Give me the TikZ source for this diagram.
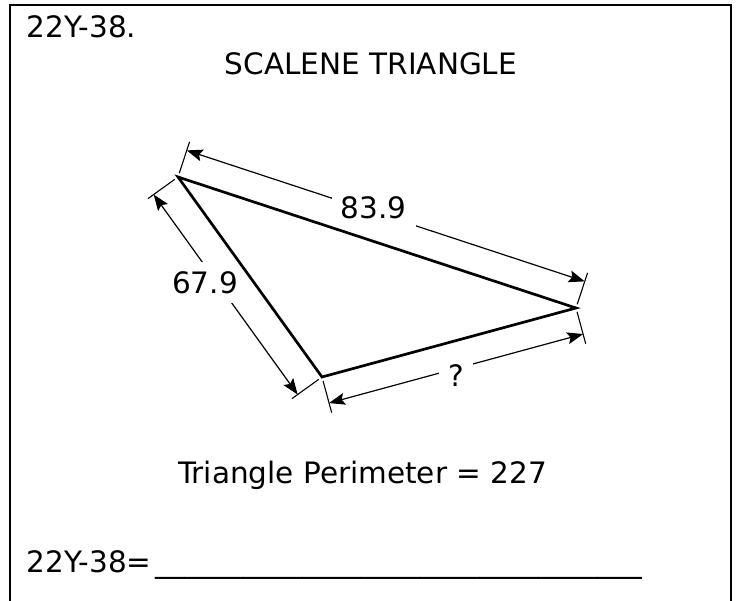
\documentclass[tikz,border=0pt]{standalone}
\usepackage{fontspec}
\setmainfont{DejaVu Sans}
\usetikzlibrary{calc,arrows.meta}
\begin{document}
\begin{tikzpicture}[x=1pt,y=-1pt,>={Stealth[length=16pt,width=12pt,inset=3pt]},
  font=\fontsize{29.5}{35}\selectfont,
  edge/.style={line width=2.7pt},
  dim/.style={<->,line width=1.2pt},
  ext/.style={line width=1.1pt},
  lbl/.style={fill=white,inner sep=9pt}]
\useasboundingbox (0,0) rectangle (739,601);
\draw[line width=2.5pt] (10,601) -- (10,5) -- (731,5) -- (731,601);
\node (num) at (23,38) [anchor=base west] {22Y-38.};
\node (title) at (371,75) [anchor=base] {SCALENE TRIANGLE};
% corners
\coordinate (A) at (178,177);
\coordinate (B) at (576,308);
\coordinate (C) at (322,377);
% extension lines
\foreach \p/\q/\a in {A/B/90,B/A/-90,A/C/-90,C/A/90,C/B/-90,B/C/90}
  \draw[ext] ($(\p)!4pt!\a:(\q)$) -- ($(\p)!37pt!\a:(\q)$);
\coordinate (ab1) at ($(A)!28pt!90:(B)$);
\coordinate (ab2) at ($(B)!28pt!-90:(A)$);
\coordinate (ac1) at ($(A)!30pt!-90:(C)$);
\coordinate (ac2) at ($(C)!30pt!90:(A)$);
\coordinate (cb1) at ($(C)!27pt!-90:(B)$);
\coordinate (cb2) at ($(B)!27pt!90:(C)$);
\draw[dim] (ab1) -- node[lbl,pos=.47,yshift=4pt] (lab) {83.9} (ab2);
\draw[dim] (ac1) -- node[lbl,pos=.44,xshift=-12pt] (lac) {67.9} (ac2);
\draw[dim] (cb1) -- node[lbl,pos=.5,yshift=-7pt] (lcb) {?} (cb2);
\draw[edge] (A) -- (B) -- (C) -- cycle;
\node (perim) at (362.5,483) [anchor=base] {Triangle Perimeter = 227};
\node (ans) at (23,572) [anchor=base west] {22Y-38=\kern4pt\_\_\_\_\_\_\_\_\_\_\_\_\_\_\_\_\_\_\_\_\_\_\_\_\_\_\_\_\_\_\_\_\_};
\end{tikzpicture}
\end{document}
